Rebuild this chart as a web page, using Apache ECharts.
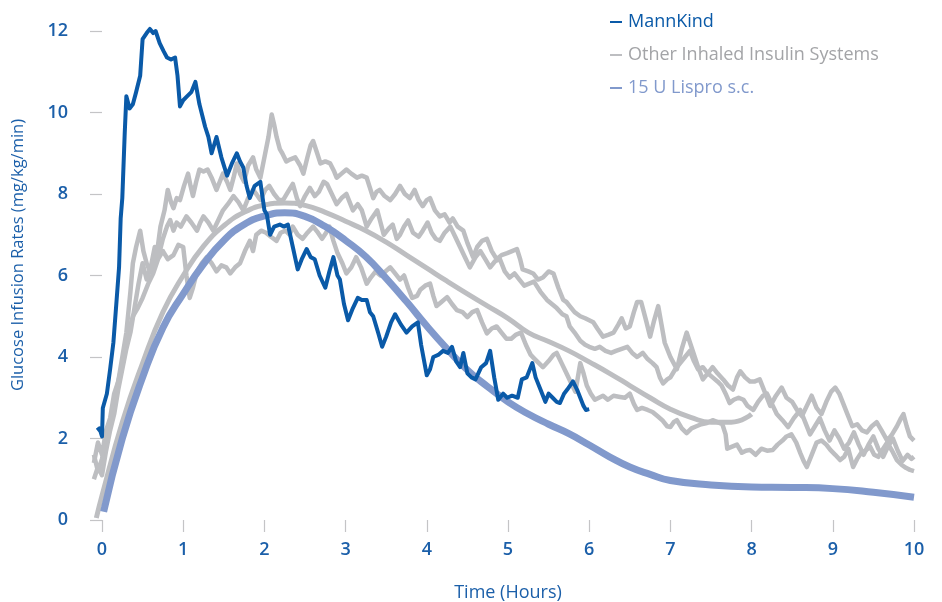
<!DOCTYPE html>
<html>
<head>
<meta charset="utf-8">
<script src="https://cdn.jsdelivr.net/npm/echarts@6/dist/echarts.min.js"></script>
<style>
html,body{margin:0;padding:0;background:#fff;}
#chart{width:942px;height:602px;}
</style>
</head>
<body>
<div id="chart"></div>
<script>
var xTicks = [0,1,2,3,4,5,6,7,8,9,10];
var yTicks = [0,2,4,6,8,10,12];
var legendNames = ['MannKind','Other Inhaled Insulin Systems','15 U Lispro s.c.'];

var mannkind = [[-0.06,2.2],[-0.03,2.25],[0,2.05],[0.01,2.75],[0.06,3.1],[0.1,3.7],[0.14,4.35],[0.18,5.4],[0.21,6.2],[0.23,7.4],[0.25,7.9],[0.28,9.5],[0.3,10.4],[0.34,10.1],[0.38,10.2],[0.42,10.5],[0.47,10.9],[0.5,11.8],[0.55,11.95],[0.59,12.05],[0.63,11.95],[0.66,12.0],[0.71,11.7],[0.76,11.5],[0.8,11.35],[0.85,11.3],[0.9,11.35],[0.93,10.9],[0.96,10.15],[1.0,10.3],[1.05,10.4],[1.1,10.5],[1.15,10.75],[1.2,10.2],[1.27,9.65],[1.31,9.4],[1.35,9.0],[1.41,9.4],[1.47,8.9],[1.54,8.45],[1.6,8.75],[1.66,9.0],[1.7,8.8],[1.74,8.65],[1.78,8.2],[1.82,7.9],[1.88,8.2],[1.95,8.3],[2.0,7.6],[2.03,7.5],[2.07,7.0],[2.12,7.2],[2.19,7.25],[2.24,7.2],[2.29,7.25],[2.35,6.7],[2.41,6.15],[2.46,6.4],[2.52,6.65],[2.57,6.45],[2.62,6.4],[2.68,6.0],[2.75,5.7],[2.8,6.1],[2.85,6.45],[2.9,6.0],[2.93,5.9],[2.98,5.3],[3.03,4.9],[3.09,5.2],[3.15,5.45],[3.2,5.4],[3.26,5.4],[3.3,5.1],[3.34,5.0],[3.4,4.6],[3.45,4.25],[3.5,4.5],[3.56,4.85],[3.61,5.05],[3.68,4.8],[3.75,4.6],[3.82,4.75],[3.89,4.85],[3.93,4.3],[4.0,3.55],[4.04,3.7],[4.08,4.0],[4.14,4.05],[4.2,4.15],[4.26,4.1],[4.31,4.25],[4.36,3.9],[4.41,3.75],[4.45,4.1],[4.5,3.6],[4.55,3.5],[4.6,3.45],[4.67,3.75],[4.73,3.85],[4.78,4.15],[4.83,3.5],[4.88,2.95],[4.94,3.1],[4.99,3.0],[5.05,3.05],[5.12,3.0],[5.17,3.45],[5.23,3.5],[5.3,3.85],[5.34,3.5],[5.4,3.2],[5.46,2.9],[5.5,3.1],[5.55,3.0],[5.6,2.9],[5.64,2.87],[5.69,3.1],[5.73,3.2],[5.8,3.4],[5.85,3.2],[5.89,3.0],[5.93,2.8],[5.96,2.7],[6.0,2.72]];

var otherUpper = [[-0.1,1.4],[-0.05,1.9],[0,1.6],[0.05,2.2],[0.1,2.5],[0.15,3.1],[0.2,3.4],[0.25,4.0],[0.3,4.6],[0.35,5.6],[0.38,6.3],[0.42,6.7],[0.47,7.1],[0.51,6.6],[0.55,6.3],[0.59,6.1],[0.64,6.4],[0.68,6.6],[0.72,7.2],[0.77,7.6],[0.81,8.1],[0.85,7.8],[0.88,7.65],[0.92,7.9],[0.96,7.85],[1.01,8.2],[1.06,8.5],[1.09,8.2],[1.12,7.95],[1.16,8.3],[1.2,8.6],[1.25,8.55],[1.3,8.6],[1.35,8.4],[1.41,8.1],[1.45,8.3],[1.49,8.5],[1.54,8.3],[1.58,8.1],[1.62,8.4],[1.66,8.75],[1.7,8.5],[1.75,8.3],[1.8,8.7],[1.86,8.9],[1.9,8.6],[1.95,8.4],[2.0,8.9],[2.05,9.4],[2.09,9.95],[2.12,9.7],[2.15,9.4],[2.19,9.1],[2.22,9.0],[2.27,8.8],[2.32,8.85],[2.38,8.9],[2.44,8.7],[2.48,8.5],[2.53,8.9],[2.57,9.2],[2.6,9.3],[2.65,9.0],[2.69,8.75],[2.75,8.8],[2.81,8.75],[2.86,8.55],[2.89,8.4],[2.95,8.5],[3.01,8.6],[3.07,8.5],[3.14,8.4],[3.2,8.45],[3.26,8.4],[3.3,8.15],[3.34,7.9],[3.38,8.05],[3.42,8.1],[3.48,7.95],[3.55,7.85],[3.61,8.0],[3.67,8.2],[3.73,8.0],[3.79,7.9],[3.85,8.1],[3.9,7.85],[3.95,7.7],[4.0,7.85],[4.04,7.9],[4.1,7.6],[4.16,7.45],[4.22,7.5],[4.28,7.3],[4.32,7.4],[4.38,7.2],[4.45,7.1],[4.5,6.8],[4.57,6.45],[4.62,6.7],[4.68,6.85],[4.74,6.9],[4.8,6.6],[4.86,6.4],[4.92,6.5],[4.99,6.55],[5.05,6.6],[5.11,6.65],[5.15,6.4],[5.18,6.15],[5.25,6.1],[5.31,6.05],[5.37,5.9],[5.43,5.95],[5.5,6.1],[5.56,6.05],[5.62,5.7],[5.68,5.4],[5.72,5.35],[5.76,5.25],[5.82,5.1],[5.89,5.0],[5.95,4.95],[6.0,4.9],[6.05,4.85],[6.1,4.7],[6.17,4.5],[6.24,4.55],[6.3,4.6],[6.36,4.8],[6.4,4.95],[6.45,4.7],[6.5,4.75],[6.55,5.1],[6.59,5.35],[6.64,5.35],[6.7,4.9],[6.75,4.5],[6.8,4.9],[6.85,5.25],[6.89,4.8],[6.93,4.35],[7.0,4.0],[7.04,3.85],[7.08,3.7],[7.14,4.2],[7.2,4.6],[7.25,4.3],[7.3,4.0],[7.35,3.7],[7.4,3.45],[7.46,3.6],[7.52,3.75],[7.58,3.6],[7.65,3.45],[7.71,3.3],[7.77,3.2],[7.82,3.5],[7.86,3.65],[7.92,3.5],[7.98,3.4],[8.04,3.4],[8.1,3.45],[8.17,3.1],[8.23,2.8],[8.3,3.05],[8.37,3.25],[8.43,3.0],[8.5,2.9],[8.56,2.7],[8.62,2.55],[8.68,2.8],[8.74,3.05],[8.8,2.75],[8.86,2.6],[8.92,2.9],[8.98,3.15],[9.03,3.25],[9.08,3.1],[9.13,2.85],[9.18,2.6],[9.24,2.3],[9.3,2.35],[9.36,2.2],[9.42,2.15],[9.48,2.3],[9.54,2.4],[9.6,2.2],[9.67,1.95],[9.73,2.1],[9.79,2.3],[9.84,2.5],[9.87,2.6],[9.91,2.3],[9.95,2.05],[10.0,1.95]];

var otherMiddle = [[-0.1,1.0],[-0.05,1.3],[0,1.1],[0.05,1.7],[0.1,2.2],[0.15,2.6],[0.2,3.2],[0.26,3.8],[0.3,4.2],[0.35,4.6],[0.4,5.2],[0.45,5.8],[0.5,6.3],[0.55,5.9],[0.6,6.2],[0.65,6.7],[0.7,6.5],[0.75,6.9],[0.8,7.2],[0.84,7.36],[0.88,7.1],[0.92,7.3],[0.97,7.2],[1.04,7.45],[1.1,7.3],[1.17,7.1],[1.21,7.3],[1.25,7.45],[1.31,7.3],[1.37,7.1],[1.43,7.35],[1.49,7.6],[1.55,7.75],[1.62,7.95],[1.68,7.8],[1.74,7.6],[1.8,7.9],[1.86,8.1],[1.9,8.0],[1.95,7.85],[2.01,8.1],[2.06,8.2],[2.12,8.0],[2.18,7.85],[2.23,7.85],[2.29,8.05],[2.35,8.25],[2.4,7.9],[2.44,7.7],[2.5,7.95],[2.56,8.15],[2.62,7.95],[2.67,8.05],[2.73,8.3],[2.77,8.25],[2.83,8.0],[2.89,7.75],[2.95,7.9],[3.01,8.0],[3.05,7.8],[3.09,7.6],[3.15,7.75],[3.2,7.6],[3.26,7.2],[3.32,7.4],[3.39,7.6],[3.43,7.3],[3.47,7.0],[3.53,7.15],[3.58,7.25],[3.63,6.9],[3.67,7.0],[3.72,7.2],[3.77,7.35],[3.83,7.05],[3.9,6.95],[3.95,7.1],[4.01,7.3],[4.06,7.05],[4.11,6.9],[4.16,6.85],[4.22,7.05],[4.29,7.2],[4.35,6.95],[4.41,6.7],[4.47,6.45],[4.53,6.2],[4.6,6.45],[4.66,6.6],[4.72,6.4],[4.78,6.2],[4.84,6.35],[4.9,6.4],[4.96,6.1],[5.02,5.95],[5.08,6.05],[5.14,5.9],[5.2,5.75],[5.26,5.8],[5.32,5.85],[5.4,5.6],[5.48,5.4],[5.54,5.3],[5.6,5.2],[5.67,5.05],[5.72,5.0],[5.76,4.75],[5.82,4.6],[5.89,4.4],[5.95,4.3],[6.0,4.25],[6.07,4.2],[6.13,4.25],[6.2,4.15],[6.27,4.1],[6.33,4.15],[6.4,4.2],[6.47,4.25],[6.53,4.1],[6.59,4.0],[6.66,4.1],[6.72,3.95],[6.78,3.85],[6.83,3.75],[6.87,3.5],[6.91,3.35],[6.96,3.45],[7.0,3.5],[7.06,3.7],[7.12,3.85],[7.18,4.0],[7.24,4.15],[7.29,3.9],[7.34,3.7],[7.4,3.75],[7.46,3.6],[7.52,3.5],[7.58,3.4],[7.63,3.3],[7.68,3.1],[7.73,2.87],[7.78,2.95],[7.84,3.0],[7.9,2.95],[7.95,2.8],[8.02,2.7],[8.08,2.9],[8.14,3.05],[8.19,3.1],[8.25,2.85],[8.31,2.6],[8.38,2.45],[8.45,2.28],[8.52,2.5],[8.6,2.7],[8.66,2.4],[8.72,2.1],[8.78,2.3],[8.84,2.5],[8.9,2.2],[8.96,1.95],[9.02,2.2],[9.08,2.0],[9.14,1.75],[9.2,1.9],[9.26,2.15],[9.32,1.85],[9.38,1.6],[9.44,1.85],[9.5,2.05],[9.56,1.75],[9.62,1.55],[9.68,1.8],[9.74,2.0],[9.8,1.7],[9.86,1.45],[9.92,1.6],[9.97,1.5],[10.0,1.55]];

var otherLower = [[-0.1,1.6],[-0.05,1.2],[0,1.5],[0.05,1.9],[0.1,2.3],[0.15,2.9],[0.2,3.4],[0.26,3.9],[0.3,4.3],[0.34,4.7],[0.38,5.0],[0.44,5.2],[0.5,5.45],[0.57,5.8],[0.63,6.05],[0.69,6.4],[0.75,6.6],[0.81,6.4],[0.88,6.5],[0.94,6.75],[1.0,6.7],[1.04,6.0],[1.08,5.45],[1.12,5.7],[1.17,6.1],[1.23,6.3],[1.29,6.45],[1.35,6.3],[1.41,6.1],[1.47,6.25],[1.53,6.2],[1.58,6.05],[1.64,6.2],[1.7,6.3],[1.76,6.6],[1.82,6.85],[1.86,6.6],[1.9,7.0],[1.96,7.1],[2.02,7.05],[2.08,6.95],[2.15,6.85],[2.2,7.05],[2.26,7.1],[2.31,7.0],[2.35,7.2],[2.41,7.0],[2.47,6.9],[2.53,7.05],[2.6,7.2],[2.66,7.05],[2.71,6.9],[2.76,7.05],[2.8,7.2],[2.85,6.85],[2.9,6.55],[2.96,6.3],[3.01,6.05],[3.07,6.2],[3.13,6.45],[3.19,6.2],[3.26,5.8],[3.31,5.95],[3.37,6.1],[3.43,6.0],[3.49,6.1],[3.55,6.2],[3.61,6.05],[3.67,5.9],[3.72,6.0],[3.77,5.7],[3.82,5.45],[3.88,5.5],[3.92,5.65],[3.98,5.75],[4.04,5.8],[4.08,5.5],[4.12,5.25],[4.18,5.35],[4.25,5.47],[4.31,5.3],[4.37,5.15],[4.44,5.1],[4.5,4.98],[4.56,5.1],[4.62,5.15],[4.68,4.85],[4.74,4.58],[4.8,4.7],[4.86,4.75],[4.92,4.6],[4.98,4.45],[5.04,4.45],[5.1,4.55],[5.16,4.6],[5.22,4.3],[5.28,4.05],[5.33,3.95],[5.38,3.85],[5.43,3.75],[5.5,3.9],[5.56,4.05],[5.6,4.1],[5.66,3.85],[5.72,3.6],[5.78,3.35],[5.83,3.15],[5.86,3.5],[5.89,3.85],[5.93,3.6],[5.97,3.3],[6.02,3.1],[6.07,2.95],[6.12,3.0],[6.17,3.05],[6.23,2.95],[6.3,3.05],[6.38,3.02],[6.44,3.0],[6.5,3.1],[6.55,2.85],[6.59,2.7],[6.65,2.75],[6.72,2.7],[6.78,2.65],[6.84,2.55],[6.9,2.45],[6.96,2.3],[7.0,2.28],[7.04,2.4],[7.08,2.45],[7.14,2.25],[7.2,2.13],[7.26,2.25],[7.32,2.3],[7.38,2.35],[7.45,2.38],[7.52,2.45],[7.58,2.4],[7.64,2.35],[7.68,2.1],[7.7,1.75],[7.76,1.8],[7.82,1.85],[7.88,1.65],[7.93,1.7],[7.98,1.72],[8.05,1.6],[8.12,1.75],[8.19,1.7],[8.26,1.72],[8.32,1.85],[8.38,1.95],[8.43,2.05],[8.49,2.1],[8.55,1.9],[8.6,1.64],[8.64,1.45],[8.68,1.3],[8.74,1.6],[8.8,1.9],[8.86,1.95],[8.92,1.85],[8.97,1.72],[9.03,1.6],[9.09,1.47],[9.14,1.55],[9.19,1.75],[9.25,1.3],[9.3,1.5],[9.35,1.65],[9.4,1.7],[9.46,1.8],[9.51,1.6],[9.56,1.55],[9.62,1.75],[9.67,1.9],[9.73,1.7],[9.79,1.47],[9.85,1.35],[9.9,1.28],[9.95,1.23],[10.0,1.2]];

var otherMean = [[-0.07,0.05],[0,0.6],[0.25,2.4],[0.5,3.85],[0.75,5.1],[1.0,6.0],[1.25,6.72],[1.5,7.22],[1.75,7.55],[2.0,7.73],[2.25,7.78],[2.5,7.72],[2.75,7.55],[3.0,7.33],[3.25,7.1],[3.5,6.82],[3.75,6.5],[4.0,6.18],[4.25,5.86],[4.5,5.55],[4.75,5.25],[5.0,4.95],[5.25,4.6],[5.5,4.38],[5.75,4.15],[6.0,3.88],[6.25,3.6],[6.5,3.3],[6.75,3.0],[7.0,2.72],[7.25,2.52],[7.5,2.4],[7.75,2.4],[8.0,2.6]];

var lispro = [[0.02,0.2],[0.25,2.0],[0.5,3.5],[0.75,4.72],[1.0,5.55],[1.25,6.28],[1.5,6.86],[1.75,7.25],[2.0,7.46],[2.25,7.54],[2.5,7.45],[2.75,7.2],[3.0,6.86],[3.25,6.46],[3.5,5.93],[3.75,5.36],[4.0,4.76],[4.25,4.2],[4.5,3.68],[4.75,3.27],[5.0,2.9],[5.25,2.6],[5.5,2.35],[5.75,2.12],[6.0,1.84],[6.25,1.55],[6.5,1.3],[6.75,1.12],[7.0,0.97],[7.5,0.86],[8.0,0.81],[8.5,0.8],[9.0,0.77],[9.5,0.68],[10.0,0.56]];

var C_BLUE = '#0a5aa8', C_GRAY = '#bdbec1', C_LISPRO = '#8199cc', C_TEXT = '#1b5fa9';
var FONT = 'Open Sans';

// plot geometry: x=0 at 102px, x=10 at 914px; data grid extends to x=-0.2 so early points (t<0) are drawn
var PLOT_L = 102, PLOT_R = 28, PLOT_T = 31, PLOT_B = 82, XMIN_DATA = -0.2;
var pxPerHour = (942 - PLOT_R - PLOT_L) / (xTicks[xTicks.length - 1] - xTicks[0]);
var dataLeft = PLOT_L + XMIN_DATA * pxPerHour;

function grayLine(d, w, smooth) {
  return {name: legendNames[1], type: 'line', data: d, xAxisIndex: 1, yAxisIndex: 1, showSymbol: false, symbol: 'none',
    smooth: smooth, clip: false, lineStyle: {color: C_GRAY, width: w, join: 'round'}, itemStyle: {color: C_GRAY}};
}

var chart = echarts.init(document.getElementById('chart'), null, {renderer: 'canvas'});
chart.setOption({
  animation: false,
  backgroundColor: '#ffffff',
  grid: [
    {left: PLOT_L, right: PLOT_R, top: PLOT_T, bottom: PLOT_B, outerBoundsMode: 'none'},
    {left: dataLeft, right: PLOT_R, top: PLOT_T, bottom: PLOT_B, outerBoundsMode: 'none'}
  ],
  legend: {
    orient: 'vertical', left: 605, top: 7, itemWidth: 12, itemHeight: 2, itemGap: 13,
    icon: 'rect', selectedMode: false,
    data: [
      {name: legendNames[0], textStyle: {color: C_BLUE}, itemStyle: {color: C_BLUE}},
      {name: legendNames[1], textStyle: {color: '#a3a4a7'}, itemStyle: {color: C_GRAY}},
      {name: legendNames[2], textStyle: {color: C_LISPRO}, itemStyle: {color: C_LISPRO}}
    ],
    textStyle: {fontFamily: FONT, fontSize: 18, fontWeight: 500, lineHeight: 20, padding: [0, 0, 0, 1]}
  },
  xAxis: [{
    gridIndex: 0, type: 'value', min: xTicks[0], max: xTicks[xTicks.length - 1], interval: 1, offset: 7,
    name: 'Time (Hours)', nameLocation: 'middle', nameGap: 57,
    nameTextStyle: {color: C_TEXT, fontFamily: FONT, fontSize: 18, fontWeight: 500},
    axisLine: {show: false},
    axisTick: {show: true, length: 12, lineStyle: {color: '#c4c4c6', width: 1.2}},
    axisLabel: {color: C_TEXT, fontFamily: FONT, fontSize: 18, fontWeight: 600, margin: 14},
    splitLine: {show: false}
  }, {
    gridIndex: 1, type: 'value', min: XMIN_DATA, max: xTicks[xTicks.length - 1], show: false
  }],
  yAxis: [{
    gridIndex: 0, type: 'value', min: yTicks[0], max: yTicks[yTicks.length - 1], interval: 2, offset: 15,
    axisLine: {show: false},
    axisTick: {show: true, length: 12, lineStyle: {color: '#c4c4c6', width: 1.2}},
    axisLabel: {color: C_TEXT, fontFamily: FONT, fontSize: 18, fontWeight: 600, margin: 19},
    splitLine: {show: false}
  }, {
    gridIndex: 1, type: 'value', min: yTicks[0], max: yTicks[yTicks.length - 1], show: false
  }],
  graphic: [{
    type: 'text', x: 18, y: 255, rotation: Math.PI / 2,
    style: {text: 'Glucose Infusion Rates (mg/kg/min)', fill: C_TEXT, font: '500 16.5px "Open Sans"',
      textAlign: 'center', textVerticalAlign: 'middle'}
  }],
  series: [
    grayLine(otherLower, 4.5, false),
    grayLine(otherMiddle, 4.5, false),
    grayLine(otherUpper, 4.5, false),
    grayLine(otherMean, 5, true),
    {name: legendNames[2], type: 'line', data: lispro, xAxisIndex: 1, yAxisIndex: 1, smooth: true, showSymbol: false, symbol: 'none', clip: false,
      lineStyle: {color: C_LISPRO, width: 7}, itemStyle: {color: C_LISPRO}},
    {name: legendNames[0], type: 'line', data: mannkind, xAxisIndex: 1, yAxisIndex: 1, showSymbol: false, symbol: 'none', clip: false,
      lineStyle: {color: C_BLUE, width: 4, join: 'round'}, itemStyle: {color: C_BLUE}}
  ]
});
</script>
</body>
</html>
